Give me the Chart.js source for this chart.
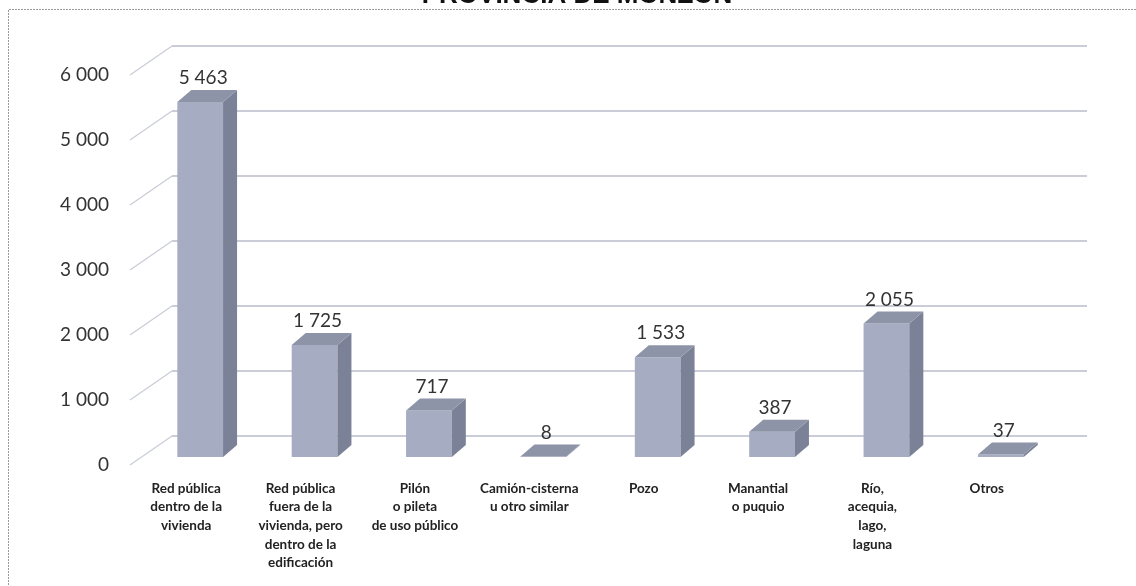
<!DOCTYPE html>
<html>
<head>
<meta charset="utf-8">
<script src="https://cdn.jsdelivr.net/npm/chart.js@4.4.1/dist/chart.umd.min.js"></script>
<style>
  html, body { margin: 0; padding: 0; background: #fff; }
  #wrap { width: 1136px; height: 586px; position: relative; }
</style>
</head>
<body>
<div id="wrap"><canvas id="myChart" width="1136" height="586"></canvas></div>
<script>
const categories = [
    ['Red pública', 'dentro de la', 'vivienda'],
    ['Red pública', 'fuera de la', 'vivienda, pero', 'dentro de la', 'edificación'],
    ['Pilón', 'o pileta', 'de uso público'],
    ['Camión-cisterna', 'u otro similar'],
    ['Pozo'],
    ['Manantial', 'o puquio'],
    ['Río,', 'acequia,', 'lago,', 'laguna'],
    ['Otros']
];
const viviendas = [5463, 1725, 717, 8, 1533, 387, 2055, 37];
const yTicks = [0, 1000, 2000, 3000, 4000, 5000, 6000];
const titleText = 'PROVINCIA DE MONZÓN';

const fmt = v => String(v).replace(/\B(?=(\d{3})+(?!\d))/g, ' ');

const DX = 14, DY = -12;

// frame + cut title + back wall gridlines
const backWall = {
    id: 'backWall',
    beforeDatasetsDraw(chart) {
        const c = chart.ctx, a = chart.chartArea, y = chart.scales.y;
        c.save();
        // page frame
        c.strokeStyle = '#9a9a9a';
        c.lineWidth = 1;
        c.setLineDash([2, 1]);
        c.beginPath();
        c.moveTo(1136, 9.5);
        c.lineTo(8.5, 9.5);
        c.lineTo(8.5, 586);
        c.stroke();
        c.setLineDash([]);
        // title (cut at the top of the scan)
        c.fillStyle = '#111';
        c.font = 'bold 26px "Liberation Sans", Arial, sans-serif';
        c.textAlign = 'center';
        c.textBaseline = 'alphabetic';
        c.fillText(titleText, 577, 3);
        // gridlines
        yTicks.forEach(t => {
            const yv = y.getPixelForValue(t);
            c.strokeStyle = '#c9ccd6';
            c.lineWidth = 1.2;
            c.beginPath();
            c.moveTo(a.left - 13, yv + 8);
            c.lineTo(a.left + 29, yv - 21);
            c.stroke();
            c.strokeStyle = '#b9bdcb';
            c.lineWidth = 1.3;
            c.beginPath();
            c.moveTo(a.left + 29, yv - 21);
            c.lineTo(a.right + 29, yv - 21);
            c.stroke();
        });
        c.restore();
    }
};

// side + top faces and value labels
const bars3d = {
    id: 'bars3d',
    afterDatasetsDraw(chart) {
        const c = chart.ctx;
        const meta = chart.getDatasetMeta(0);
        c.save();
        meta.data.forEach((bar, i) => {
            const p = bar.getProps(['x', 'y', 'base', 'width'], true);
            const l = p.x - p.width / 2, r = p.x + p.width / 2;
            // side
            c.fillStyle = '#7b8196';
            c.beginPath();
            c.moveTo(r, p.y);
            c.lineTo(r + DX, p.y + DY);
            c.lineTo(r + DX, p.base + DY);
            c.lineTo(r, p.base);
            c.closePath();
            c.fill();
            // top
            c.fillStyle = '#8e94a8';
            c.beginPath();
            c.moveTo(l, p.y);
            c.lineTo(l + DX, p.y + DY);
            c.lineTo(r + DX, p.y + DY);
            c.lineTo(r, p.y);
            c.closePath();
            c.fill();
            // value label
            c.fillStyle = '#333';
            c.font = '19px Lato, sans-serif';
            c.textAlign = 'center';
            c.textBaseline = 'middle';
            c.fillText(fmt(viviendas[i]), p.x + 3, p.y - 24);
        });
        c.restore();
    }
};

const ctx = document.getElementById('myChart');
const myChart = new Chart(ctx, {
    type: 'bar',
    data: {
        labels: categories,
        datasets: [{
            data: viviendas,
            backgroundColor: '#a6acc2',
            borderWidth: 0,
            barPercentage: 0.4,
            categoryPercentage: 1
        }]
    },
    options: {
        responsive: false,
        animation: false,
        layout: { padding: { top: 67, right: 78, left: 0, bottom: 0 } },
        plugins: {
            legend: { display: false },
            tooltip: { enabled: false }
        },
        scales: {
            y: {
                min: 0,
                max: 6000,
                afterFit(s) { s.width = 143; },
                afterBuildTicks(s) { s.ticks = yTicks.map(v => ({ value: v })); },
                grid: { display: false, drawTicks: false },
                border: { display: false },
                ticks: {
                    padding: 34,
                    labelOffset: 8,
                    color: '#333',
                    font: { family: 'Lato', size: 19 },
                    callback: v => fmt(v)
                }
            },
            x: {
                afterFit(s) { s.height = 129; },
                grid: { display: false, drawTicks: false },
                border: { display: false },
                ticks: {
                    padding: 22,
                    labelOffset: -14,
                    maxRotation: 0,
                    autoSkip: false,
                    color: '#222',
                    font: { family: 'Lato', size: 13.5, weight: 'bold', lineHeight: 1.38 }
                }
            }
        }
    },
    plugins: [backWall, bars3d]
});
</script>
</body>
</html>
